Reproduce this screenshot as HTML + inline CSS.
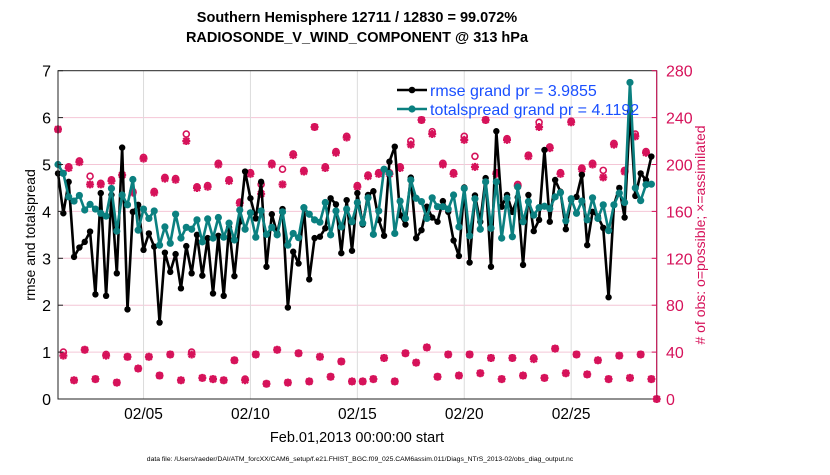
<!DOCTYPE html>
<html><head><meta charset="utf-8"><style>
body{margin:0;background:#fff;}
svg text{font-family:"Liberation Sans",Arial,sans-serif;}
</style></head><body>
<svg id="chart" width="830" height="470" xmlns="http://www.w3.org/2000/svg">
<rect width="830" height="470" fill="#fff"/>
<text x="357" y="22" text-anchor="middle" font-size="14.5" font-weight="bold">Southern Hemisphere 12711 / 12830 = 99.072%</text>
<text x="357" y="42" text-anchor="middle" font-size="14.5" font-weight="bold">RADIOSONDE_V_WIND_COMPONENT @ 313 hPa</text>
<g id="grid"></g>
<g id="series"></g>
<rect x="58" y="70.7" width="598.7" height="328.3" fill="none" stroke="#222" stroke-width="1"/>
<line x1="656.7" y1="70.7" x2="656.7" y2="399" stroke="#d6125a" stroke-width="1"/>
<g id="axes"></g>
<text transform="translate(35,235) rotate(-90)" text-anchor="middle" font-size="14">rmse and totalspread</text>
<text transform="translate(705,235) rotate(-90)" text-anchor="middle" font-size="14" fill="#d6125a"># of obs: o=possible; ×=assimilated</text>
<text x="357" y="442" text-anchor="middle" font-size="14.5">Feb.01,2013 00:00:00 start</text>
<text x="360" y="461" text-anchor="middle" font-size="6.8">data file: /Users/raeder/DAI/ATM_forcXX/CAM6_setup/f.e21.FHIST_BGC.f09_025.CAM6assim.011/Diags_NTrS_2013-02/obs_diag_output.nc</text>
<g id="legend">
<line x1="397" y1="90" x2="427" y2="90" stroke="#000" stroke-width="2.5"/>
<circle cx="412" cy="90" r="3.3" fill="#000"/>
<text x="430" y="96" font-size="16" fill="#1a4fff">rmse grand pr = 3.9855</text>
<line x1="397" y1="109" x2="427" y2="109" stroke="#0b8080" stroke-width="2.5"/>
<circle cx="412" cy="109" r="3.6" fill="#0b8080"/>
<text x="430" y="115" font-size="16" fill="#1a4fff">totalspread grand pr = 4.1192</text>
</g>
</svg>
<script>
const rmse=[4.81,3.96,4.63,3.03,3.23,3.35,3.57,2.23,4.39,2.20,4.35,2.68,5.36,1.91,3.99,4.14,3.18,3.53,3.25,1.63,3.12,2.71,3.09,2.36,3.26,2.68,3.50,2.63,3.43,2.25,
3.48,2.20,3.66,2.62,3.78,4.85,4.28,3.85,4.63,2.82,3.94,3.53,4.05,1.95,3.14,2.89,4.08,2.55,3.43,3.46,3.64,4.28,4.15,3.11,4.24,3.16,4.39,
3.72,4.35,4.43,3.82,3.48,5.06,5.38,3.92,3.72,4.72,3.43,3.60,4.10,3.87,3.78,4.22,3.99,3.38,3.05,4.51,2.91,4.34,3.78,4.71,2.82,5.71,4.10,4.35,
3.99,4.30,2.86,4.35,3.58,3.82,5.31,3.78,4.67,4.42,3.62,4.24,4.31,4.78,3.28,3.99,3.89,3.65,2.17,4.14,4.50,3.87,6.13,4.33,4.81,4.67,5.17];
const spread=[5.00,4.81,4.31,4.22,4.34,4.03,4.15,4.05,3.96,3.90,4.49,3.58,4.35,4.14,4.68,3.60,4.05,3.85,4.01,3.28,3.67,3.32,3.94,3.43,3.66,3.62,3.82,3.35,3.84,
3.43,3.87,3.45,3.75,3.39,4.03,3.62,3.97,3.45,4.01,3.51,3.66,3.50,3.99,3.28,3.53,3.44,4.08,3.94,3.82,3.77,4.19,3.50,4.01,3.67,4.05,3.78,4.19,
3.75,4.29,3.51,4.01,4.90,4.81,3.53,4.22,3.85,4.67,4.28,4.21,3.85,4.29,4.10,4.10,4.05,4.35,3.67,4.49,3.48,4.27,3.62,4.63,3.64,4.63,3.43,4.28,
3.46,4.52,3.78,4.21,3.92,4.08,4.11,4.06,4.31,4.40,3.80,4.27,3.96,4.22,3.82,4.29,3.85,4.14,3.59,4.14,4.39,4.19,6.75,4.50,4.23,4.57,4.58];
const obsAssim=[230,37,197,16,202,42,183,17,183,37,186,14,191,36,176,26,205,36,176,20,188,38,187,16,220,38,180,18,181,
17,200,16,186,33,167,16,192,38,175,13,200,42,183,14,208,39,194,15,232,36,197,19,210,32,223,15,181,
15,190,17,192,35,192,15,197,39,217,31,238,44,226,19,200,38,192,20,221,38,198,22,238,35,192,17,221,
35,182,20,207,34,232,18,214,43,192,22,236,38,196,21,200,33,189,17,217,37,194,18,224,38,210,17,0];
const obsPoss=[230,40,198,16,203,42,190,17,184,38,187,14,191,36,177,26,206,36,177,20,189,38,188,16,226,40,181,18,182,
17,201,16,187,33,168,17,193,38,183,13,201,42,196,14,209,39,195,15,232,36,198,19,211,32,224,15,182,
15,191,17,193,35,193,15,198,39,220,31,238,44,228,19,201,38,193,20,224,38,207,22,238,35,193,17,222,
35,183,20,208,35,236,18,215,43,193,22,237,38,197,21,201,33,195,17,218,37,195,18,226,38,211,17,0];
const leftTicks=[0,1,2,3,4,5,6,7];
const rightTicks=[0,40,80,120,160,200,240,280];
const dateTicks=[4,9,14,19,24];
const dateLabels=["02/05","02/10","02/15","02/20","02/25"];

const NS="http://www.w3.org/2000/svg";
const X0=58,X1=656.7,Y0=399,Y1=70.7,DAYS=28;
const xs=i=>X0+(i/4)*(X1-X0)/DAYS;
const xd=d=>X0+d*(X1-X0)/DAYS;
const yl=v=>Y0-v*(Y0-Y1)/7;
const yr=v=>Y0-v*(Y0-Y1)/280;
function mk(tag,attrs,parent){const e=document.createElementNS(NS,tag);for(const k in attrs)e.setAttribute(k,attrs[k]);parent.appendChild(e);return e;}
const grid=document.getElementById('grid'),axes=document.getElementById('axes'),ser=document.getElementById('series');
leftTicks.forEach(v=>{
 if(v>0&&v<7){const g=mk('line',{x1:X0,x2:X1,y1:yl(v),y2:yl(v),stroke:'#f4c6d6','stroke-width':1},grid);
 
 }
 const t=mk('text',{x:51,y:yl(v)+6,'text-anchor':'end','font-size':16},axes);t.textContent=v;
 
 
 const tk=mk('line',{x1:X0,x2:X0+5,y1:yl(v),y2:yl(v),stroke:'#222'},axes);
 
 
});
rightTicks.forEach(v=>{
 const t=mk('text',{x:666,y:yr(v)+6,'font-size':16,fill:'#d6125a'},axes);t.textContent=v;
 
 
 const tk=mk('line',{x1:X1-5,x2:X1,y1:yr(v),y2:yr(v),stroke:'#d6125a'},axes);
 
 
});
dateTicks.forEach((d,k)=>{
 const g=mk('line',{x1:xd(d),x2:xd(d),y1:Y1,y2:Y0,stroke:'#dcdcdc','stroke-width':1},grid);
 
 
 const t=mk('text',{x:xd(d),y:419,'text-anchor':'middle','font-size':15.5},axes);t.textContent=dateLabels[k];
 
 
});
const MC='#d6125a';
obsPoss.forEach((v,i)=>{
 const c=mk('circle',{cx:xs(i),cy:yr(v),r:3,fill:'none',stroke:MC,'stroke-width':1.6},ser);
 
 
});
obsAssim.forEach((v,i)=>{
 const x=xs(i),y=yr(v);
 const p=mk('path',{d:`M${x-4} ${y}L${x+4} ${y}M${x} ${y-4}L${x} ${y+4}M${x-3} ${y-3}L${x+3} ${y+3}M${x-3} ${y+3}L${x+3} ${y-3}`,stroke:MC,'stroke-width':2.2},ser);
 
 
});
function line(arr,col,r,name){
 const pl=mk('polyline',{points:arr.map((v,i)=>xs(i)+','+yl(v)).join(' '),fill:'none',stroke:col,'stroke-width':2.6,'stroke-linejoin':'round'},ser);
 
 
 arr.forEach((v,i)=>{const c=mk('circle',{cx:xs(i),cy:yl(v),r:r,fill:col},ser);
 
 });
}
line(rmse,'#000',3.2,'rmse');
line(spread,'#0b8080',3.6,'totalspread');
</script>
</body></html>
